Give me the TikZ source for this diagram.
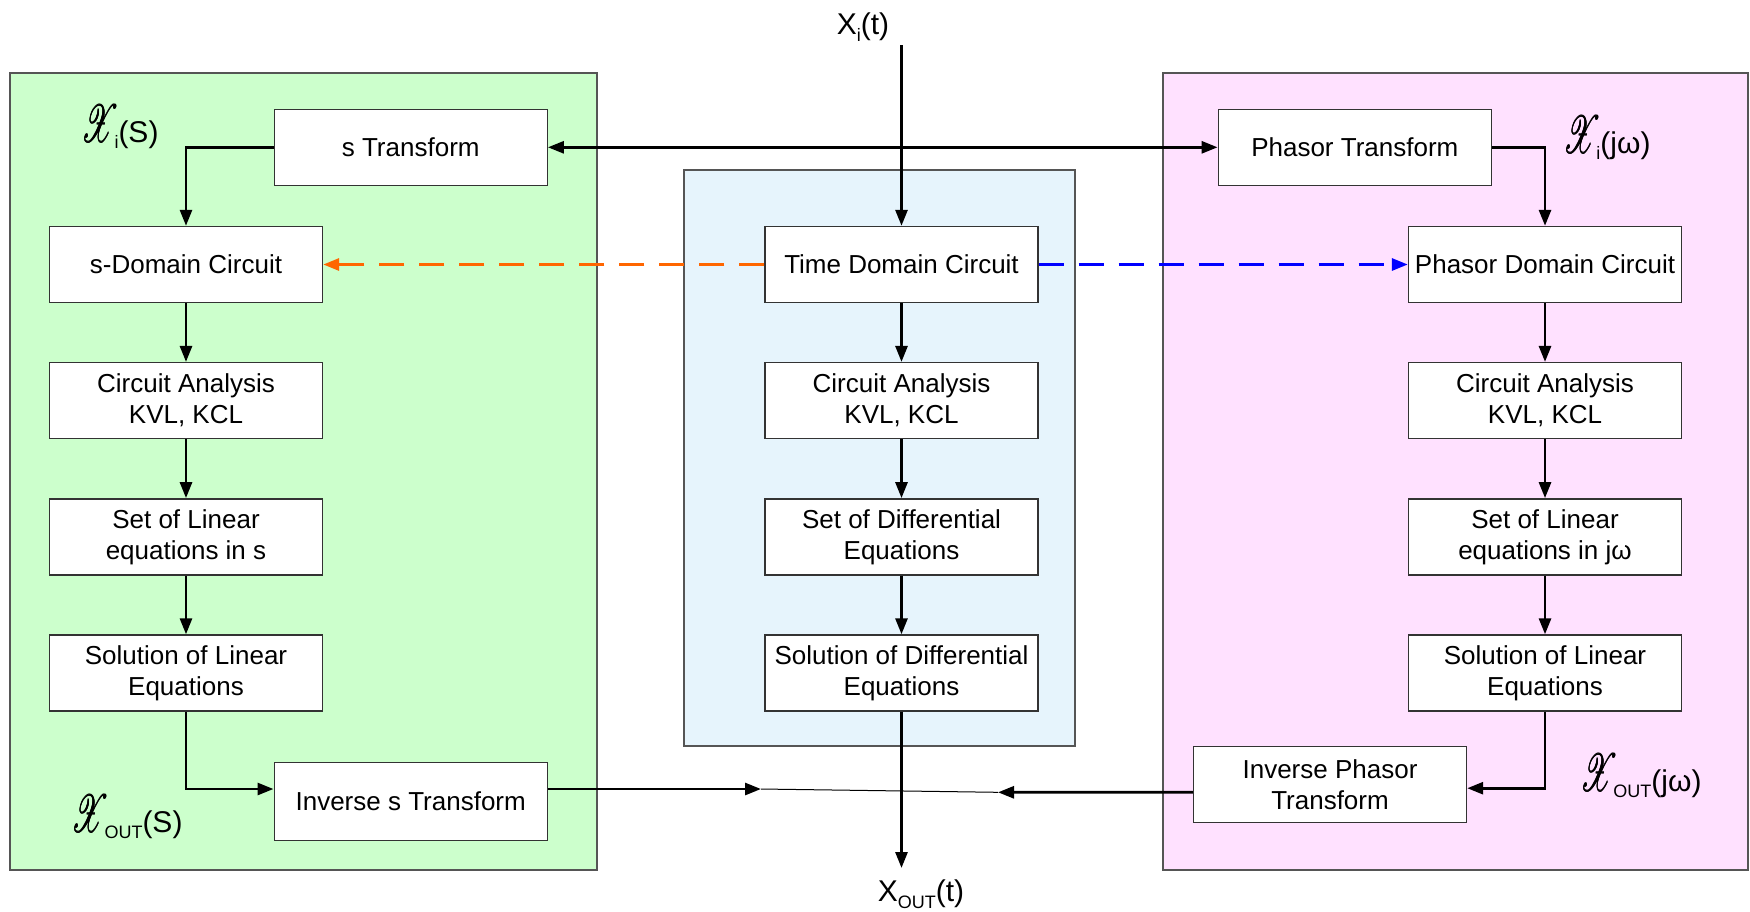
\documentclass[tikz,border=0pt]{standalone}
\usepackage{fontspec}
\usepackage{graphicx}
\usepackage{mathrsfs}
\setmainfont{Liberation Sans}
\usetikzlibrary{arrows.meta}

\definecolor{sgreen}{RGB}{204,255,204}
\definecolor{tblue}{RGB}{230,244,252}
\definecolor{ppink}{RGB}{255,225,255}
\definecolor{dorange}{RGB}{255,102,0}
\definecolor{dblue}{RGB}{0,0,255}
\definecolor{frame}{RGB}{85,85,85}

% subscript and script-letter helpers (the script X is overprinted to thicken it)
\newcommand{\lowsub}[1]{\raisebox{-0.22em}{\fontsize{18}{18}\selectfont #1}}
\newcommand{\heavyX}{\rlap{$\mathscr{X}$}\rlap{\raisebox{0.15pt}{$\mathscr{X}$}}\kern0.3pt$\mathscr{X}$}
\newcommand{\scrX}{\resizebox{38pt}{37pt}{\heavyX}\kern-5pt}

\tikzset{
  panel/.style={draw=frame, line width=1.3pt},
  blk/.style={draw=black!80, line width=1.4pt, fill=white, minimum width=273pt,
    minimum height=76pt, align=center, inner sep=2pt,
    font=\fontsize{26}{31}\selectfont},
  arr/.style={line width=2.8pt, -{Triangle[length=16pt,width=12pt]}},
  darr/.style={line width=2.8pt, {Triangle[length=16pt,width=12pt]}-{Triangle[length=16pt,width=12pt]}},
  dasharr/.style={line width=3pt, dash pattern=on 25pt off 15pt,
    -{Triangle[length=16pt,width=12pt]}},
  sig/.style={font=\fontsize{30}{30}\selectfont, inner sep=0pt},
  dom/.style={font=\fontsize{30}{30}\selectfont, inner sep=0pt}
}

\begin{document}
\begin{tikzpicture}[x=1pt, y=-1pt]
\useasboundingbox (0,0) rectangle (1750,911);

% background panels for the three domains
\draw[panel, fill=sgreen] (10,73) rectangle (597,870);
\draw[panel, fill=tblue] (684,170) rectangle (1075,746);
\draw[panel, fill=ppink] (1163,73) rectangle (1748,870);

% s-domain column
\node[blk] (stf)  at (410.7,147.3) {s Transform};
\node[blk] (sdom) at (186,264.5) {s-Domain Circuit};
\node[blk] (ca1)  at (186,400.6) {Circuit Analysis\\KVL, KCL};
\node[blk] (le1)  at (186,536.8) {Set of Linear\\equations in s};
\node[blk] (so1)  at (186,673) {Solution of Linear\\Equations};
\node[blk, minimum height=78pt] (invs) at (410.7,801.5) {Inverse s Transform};

% time-domain column
\node[blk] (tdc) at (901.5,264.5) {Time Domain Circuit};
\node[blk] (ca2) at (901.5,400.6) {Circuit Analysis\\KVL, KCL};
\node[blk] (de2) at (901.5,536.8) {Set of Differential\\Equations};
\node[blk] (so2) at (901.5,673) {Solution of Differential\\Equations};

% phasor column
\node[blk] (ptf)  at (1354.8,147.3) {Phasor Transform};
\node[blk] (pdom) at (1545,264.5) {Phasor Domain Circuit};
\node[blk] (ca3)  at (1545,400.6) {Circuit Analysis\\KVL, KCL};
\node[blk] (le3)  at (1545,536.8) {Set of Linear\\equations in jω};
\node[blk] (so3)  at (1545,673) {Solution of Linear\\Equations};
\node[blk] (invp) at (1330,784.7) {Inverse Phasor\\Transform};

% input and output signals
\node[sig] (xin) at (863,27) {X\lowsub{i}(t)};
\node[sig] (xout) at (921,894) {X\lowsub{OUT}(t)};
\coordinate (xinTop) at (901.5,45);
\coordinate (xoutTip) at (901.5,868);

% domain labels
\node[dom] (lxs)  at (120,127) {\scrX\lowsub{i}(S)};
\node[dom] (lxw)  at (1607,138) {\scrX\lowsub{i}(jω)};
\node[dom] (loxs) at (127,817) {\scrX\lowsub{OUT}(S)};
\node[dom] (loxw) at (1641,776) {\scrX\lowsub{OUT}(jω)};

% main signal path
\draw[arr] (xinTop) -- (tdc.north);
\draw[darr] (stf.east) -- (ptf.west);

% s-domain flow
\draw[arr] (stf.west) -| (sdom.north);
\draw[arr] (sdom) -- (ca1);
\draw[arr] (ca1) -- (le1);
\draw[arr] (le1) -- (so1);
\draw[arr] (so1.south) |- ([yshift=12.5pt]invs.west);

% time-domain flow
\draw[arr] (tdc) -- (ca2);
\draw[arr] (ca2) -- (de2);
\draw[arr] (de2) -- (so2);
\draw[arr] (so2.south) -- (xoutTip);

% phasor flow
\draw[arr] (ptf.east) -| (pdom.north);
\draw[arr] (pdom) -- (ca3);
\draw[arr] (ca3) -- (le3);
\draw[arr] (le3) -- (so3);
\draw[arr] (so3.south) |- ([yshift=-3.5pt]invp.east);

% domain conversions
\draw[dasharr, dorange] (tdc.west) -- (sdom.east);
\draw[dasharr, dblue] (tdc.east) -- (pdom.west);

% outputs merging into the time signal
\coordinate (mL) at (761,789);
\coordinate (mR) at (998,792.3);
\draw[arr] ([yshift=12.5pt]invs.east) -- (mL);
\draw[arr] ([yshift=-7.5pt]invp.west) -- (mR);
\draw[line width=1pt] (mL) -- (mR);
\end{tikzpicture}
\end{document}
